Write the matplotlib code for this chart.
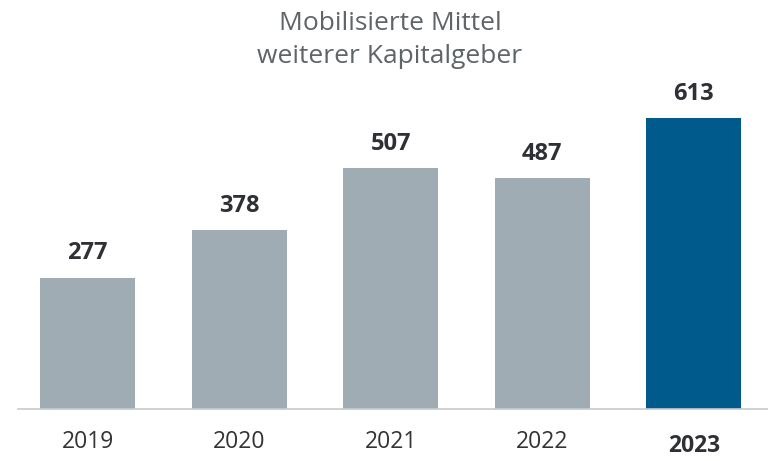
import numpy as np
import matplotlib.pyplot as plt

plt.rcParams['font.family'] = ['Open Sans', 'DejaVu Sans']

years = ['2019', '2020', '2021', '2022', '2023']
values = [277, 378, 507, 487, 613]
colors = ['#a0acb4', '#a0acb4', '#a0acb4', '#a0acb4', '#005a8c']

fig = plt.figure(figsize=(7.68, 4.61), dpi=100)
ax = fig.add_axes([18/768, 52/461, 750/768, 291/461])

x = np.arange(len(years))
ax.bar(x, values, width=0.627, color=colors)

for xi, v in zip(x, values):
    ax.annotate(str(v), (xi, v), xytext=(0, 13), textcoords='offset points',
                ha='center', va='baseline', fontsize=17, fontweight='bold',
                color='#2e3035', annotation_clip=False)

ax.set_xlim(-0.46, 4.49)
ax.set_ylim(0, 613)
ax.set_xticks(x)
# letztes Jahr fett und etwas tiefer, daher separat
ax.set_xticklabels(years[:-1] + [''], fontsize=16.5, color='#333333')
ax.tick_params(axis='x', length=0, pad=15)
ax.annotate(years[-1], (x[-1], 0), xytext=(0, -31), textcoords='offset points',
            ha='center', va='baseline', fontsize=16.5, fontweight='bold',
            color='#2e3035', annotation_clip=False)
ax.set_yticks([])
for s in ['left', 'right', 'top']:
    ax.spines[s].set_visible(False)
ax.spines['bottom'].set_color('#c5cbd0')
ax.spines['bottom'].set_linewidth(1.2)

fig.text(390/768, 1 - 30/461, 'Mobilisierte Mittel', ha='center', va='baseline',
         fontsize=19, color='#5f6468')
fig.text(390/768, 1 - 63/461, 'weiterer Kapitalgeber', ha='center', va='baseline',
         fontsize=19, color='#5f6468')

fig.savefig('out.png', dpi=100)
